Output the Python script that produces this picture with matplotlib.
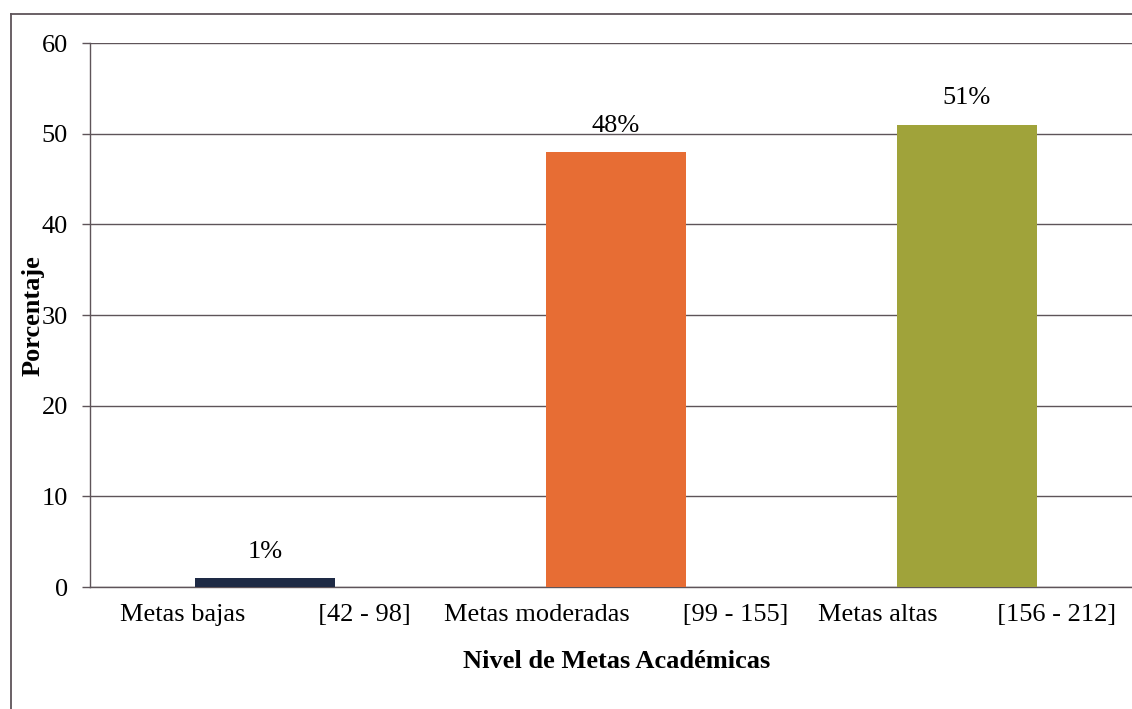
import matplotlib
matplotlib.use("Agg")
import matplotlib.pyplot as plt
from matplotlib.lines import Line2D

categories = ["Metas bajas           [42 - 98]",
              "Metas moderadas        [99 - 155]",
              "Metas altas         [156 - 212]"]
values = [1, 48, 51]
value_labels = ["1%", "48%", "51%"]
colors = ["#1e2a45", "#e76d34", "#a0a33a"]
yticks = [0, 10, 20, 30, 40, 50, 60]

plt.rcParams['font.family'] = ['Liberation Serif', 'DejaVu Serif']

W, H = 1132, 709
FS = 19
fig = plt.figure(figsize=(W / 100, H / 100), dpi=100)
fig.patch.set_facecolor("white")

GRID = '#5e5459'

# plot area: left x=90, right ~1142 (cut off), top y=43, bottom y=587
ax = fig.add_axes([90 / W, 1 - 587 / H, (1142 - 90) / W, (587 - 43) / H])
x = list(range(len(values)))
ax.bar(x, values, width=0.4, color=colors, zorder=3)
ax.set_xlim(-0.5, 2.5)
ax.set_ylim(0, 60)
ax.set_yticks(yticks)
ax.set_yticklabels([str(t) for t in yticks], fontsize=FS)
ax.set_xticks(x)
ax.set_xticklabels(categories, fontsize=FS)
ax.tick_params(axis='x', length=0, pad=12)
ax.tick_params(axis='y', length=6, width=1, color=GRID, pad=10)
ax.yaxis.grid(True, color=GRID, linewidth=1.0, zorder=0)
for s in ['top', 'right']:
    ax.spines[s].set_visible(False)
for s in ['left', 'bottom']:
    ax.spines[s].set_color(GRID)
    ax.spines[s].set_linewidth(1.0)

for xi, v, lab in zip(x, values, value_labels):
    ax.annotate(lab, (xi, v), xytext=(0, 11), textcoords='offset points',
                ha='center', va='bottom', fontsize=FS)

fig.text(33 / W, 1 - 316 / H, "Porcentaje", rotation=90, ha='center', va='center',
         fontsize=FS, fontweight='bold')
fig.text(617 / W, 1 - 662 / H, "Nivel de Metas Académicas", ha='center', va='center',
         fontsize=FS, fontweight='bold')

# outer chart frame (left and top edges visible)
fig.add_artist(Line2D([11 / W, 11 / W], [0, 1 - 14 / H], transform=fig.transFigure,
                      color='#5e5459', linewidth=1.3))
fig.add_artist(Line2D([11 / W, 1], [1 - 14 / H, 1 - 14 / H], transform=fig.transFigure,
                      color='#5e5459', linewidth=1.3))

fig.savefig("out.png", dpi=100)
